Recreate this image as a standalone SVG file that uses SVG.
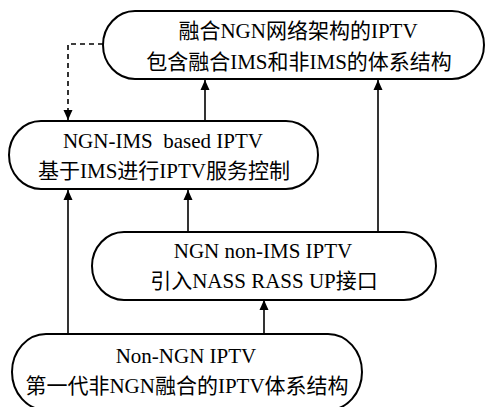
<svg xmlns="http://www.w3.org/2000/svg" width="486" height="407" viewBox="0 0 486 407">
<style>
.n{fill:#fff;stroke:#000;stroke-width:2}
.t{font-family:"Liberation Serif","Noto Sans CJK SC",serif;font-size:21px;fill:#000;text-anchor:middle;white-space:pre}
.c{fill:none;stroke:#000;stroke-width:1.6}
.d{stroke-dasharray:5 4}
</style>
<defs>
<marker id="ah" viewBox="0 0 10 10" refX="10" refY="5" markerWidth="10" markerHeight="10" markerUnits="userSpaceOnUse" orient="auto">
<path d="M0,0.5 L10,5 L0,9.5 Z" fill="#000"/>
</marker>
</defs>
<g id="connectors">
<path class="c d" d="M103,44 H68 V120" marker-end="url(#ah)"/>
<path class="c" d="M205,121 V80" marker-end="url(#ah)"/>
<path class="c" d="M378,232 V80" marker-end="url(#ah)"/>
<path class="c" d="M68,334 V190" marker-end="url(#ah)"/>
<path class="c" d="M188,232 V190" marker-end="url(#ah)"/>
<path class="c" d="M264,334 V300" marker-end="url(#ah)"/>
</g>
<g id="node-ngn-fusion">
<rect class="n" x="103" y="11" width="381" height="68" rx="32" ry="34"/>
<text class="t" x="298" y="38">融合NGN网络架构的IPTV</text>
<text class="t" x="299" y="69">包含融合IMS和非IMS的体系结构</text>
</g>
<g id="node-ngn-ims">
<rect class="n" x="9" y="121" width="309" height="68" rx="32" ry="34"/>
<text class="t" x="163" y="148">NGN-IMS  based IPTV</text>
<text class="t" x="164" y="178">基于IMS进行IPTV服务控制</text>
</g>
<g id="node-ngn-non-ims">
<rect class="n" x="92" y="232" width="344" height="68" rx="32" ry="34"/>
<text class="t" x="263" y="258">NGN non-IMS IPTV</text>
<text class="t" x="264" y="288">引入NASS RASS UP接口</text>
</g>
<g id="node-non-ngn">
<rect class="n" x="12" y="334" width="350" height="76" rx="34" ry="38"/>
<text class="t" x="186" y="363">Non-NGN IPTV</text>
<text class="t" x="187" y="393">第一代非NGN融合的IPTV体系结构</text>
</g>
</svg>
